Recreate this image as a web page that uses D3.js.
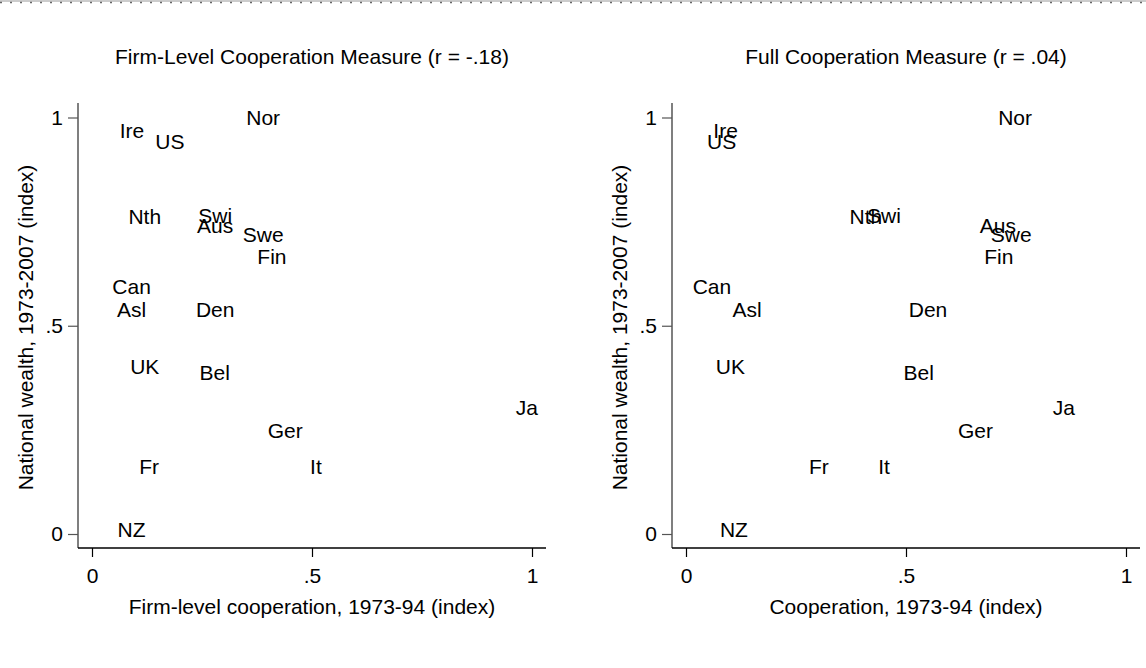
<!DOCTYPE html>
<html>
<head>
<meta charset="utf-8">
<script src="https://cdn.jsdelivr.net/npm/d3@7"></script>
<style>
  body { margin: 0; background: #fff; }
  svg { display: block; font-family: "Liberation Sans", Arial, sans-serif; }
</style>
</head>
<body>
<svg id="chart" width="1146" height="668"></svg>
<script>
// ---- data ----
const countries = ["Ire","US","Nor","Nth","Swi","Aus","Swe","Fin","Can","Asl","Den","UK","Bel","Ja","Ger","It","Fr","NZ"];
const wealth    = [0.970,0.942,0.999,0.762,0.766,0.742,0.720,0.666,0.594,0.538,0.538,0.402,0.387,0.303,0.248,0.163,0.163,0.010];
const firmCoop  = [0.091,0.177,0.389,0.120,0.280,0.280,0.389,0.409,0.090,0.090,0.280,0.120,0.279,0.988,0.439,0.509,0.130,0.090];
const fullCoop  = [0.090,0.081,0.748,0.409,0.450,0.709,0.739,0.711,0.059,0.139,0.550,0.101,0.529,0.859,0.658,0.450,0.302,0.109];
const tickValues = [0, 0.5, 1];
const tickLabels = ["0", ".5", "1"];
const panelTitles = ["Firm-Level Cooperation Measure (r = -.18)", "Full Cooperation Measure (r = .04)"];
const xTitles = ["Firm-level cooperation, 1973-94 (index)", "Cooperation, 1973-94 (index)"];
const yTitle = "National wealth, 1973-2007 (index)";

const svg = d3.select("#chart");
const FS = 21;

// top dashed border
svg.append("line").attr("x1",0).attr("x2",1146).attr("y1",1).attr("y2",1)
  .attr("stroke","#999").attr("stroke-width",1);
svg.append("line").attr("x1",0).attr("x2",1146).attr("y1",2.5).attr("y2",2.5)
  .attr("stroke","#666").attr("stroke-width",1.5).attr("stroke-dasharray","2,8");

const panels = [
  {xs: firmCoop, left: 92},
  {xs: fullCoop, left: 686}
];

panels.forEach((p, i) => {
  const x = d3.scaleLinear().domain([0,1]).range([p.left, p.left + 440]);
  const y = d3.scaleLinear().domain([0,1]).range([534, 117.5]);
  const axisX = x(0) - 14, axisY = 548;
  const g = svg.append("g");

  // axis lines
  g.append("line").attr("x1",axisX).attr("x2",axisX).attr("y1",103).attr("y2",axisY)
    .attr("stroke","#555").attr("stroke-width",1.5);
  g.append("line").attr("x1",axisX).attr("x2",x(1)+14).attr("y1",axisY).attr("y2",axisY)
    .attr("stroke","#000").attr("stroke-width",1.5);

  // y axis
  const ya = d3.axisLeft(y).tickValues(tickValues).tickFormat((d,k)=>tickLabels[k]).tickSize(10).tickPadding(5);
  const yg = g.append("g").attr("transform",`translate(${axisX},0)`).call(ya);
  yg.select(".domain").remove();
  yg.selectAll("line").attr("stroke","#555").attr("stroke-width",1.2);
  yg.selectAll("text").attr("font-size",FS).attr("fill","#000").attr("font-family","Liberation Sans, Arial, sans-serif");

  // x axis
  const xa = d3.axisBottom(x).tickValues(tickValues).tickFormat((d,k)=>tickLabels[k]).tickSize(9).tickPadding(11);
  const xg = g.append("g").attr("transform",`translate(0,${axisY})`).call(xa);
  xg.select(".domain").remove();
  xg.selectAll("line").attr("stroke","#000").attr("stroke-width",1.2);
  xg.selectAll("text").attr("font-size",FS).attr("fill","#000").attr("font-family","Liberation Sans, Arial, sans-serif");

  // titles
  g.append("text").attr("x",(axisX + x(1)+14)/2).attr("y",64).attr("text-anchor","middle")
    .attr("font-size",FS).text(panelTitles[i]);
  g.append("text").attr("x",(axisX + x(1)+14)/2).attr("y",614).attr("text-anchor","middle")
    .attr("font-size",FS).text(xTitles[i]);
  g.append("text").attr("transform",`translate(${axisX-45},${(103+axisY)/2 + 2}) rotate(-90)`)
    .attr("text-anchor","middle").attr("font-size",FS).text(yTitle);

  // marker labels
  g.selectAll("text.lab").data(countries).join("text").attr("class","lab")
    .attr("x",(d,k)=>x(p.xs[k])).attr("y",(d,k)=>y(wealth[k]))
    .attr("dy","0.36em").attr("text-anchor","middle").attr("font-size",FS).text(d=>d);
});
</script>
</body>
</html>
